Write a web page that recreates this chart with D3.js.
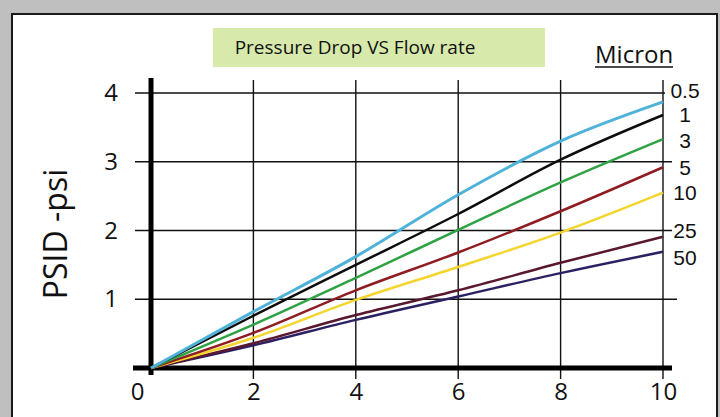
<!DOCTYPE html>
<html>
<head>
<meta charset="utf-8">
<script src="https://cdn.jsdelivr.net/npm/d3@7"></script>
<style>
  body { margin: 0; background: #bfbfbf; }
  svg { display: block; }
  text { font-family: "Open Sans", "Liberation Sans", sans-serif; fill: #111; }
</style>
</head>
<body>
<svg id="svg"></svg>
<script>
  // flow rate (x) and pressure drop readings per micron rating
  const flowRate = [0, 2, 4, 6, 8, 10];
  const microns = ["0.5", "1", "3", "5", "10", "25", "50"];
  const psi_05 = [0, 0.82, 1.62, 2.52, 3.30, 3.87];
  const psi_1  = [0, 0.76, 1.50, 2.24, 3.03, 3.68];
  const psi_3  = [0, 0.63, 1.31, 2.01, 2.70, 3.33];
  const psi_5  = [0, 0.51, 1.13, 1.68, 2.28, 2.92];
  const psi_10 = [0, 0.44, 0.99, 1.47, 1.97, 2.55];
  const psi_25 = [0, 0.36, 0.77, 1.13, 1.53, 1.91];
  const psi_50 = [0, 0.33, 0.70, 1.04, 1.38, 1.69];
  const labelPsi = [4.04, 3.68, 3.31, 2.91, 2.55, 2.0, 1.61];   // where the micron labels sit
  const xTicks = [0, 2, 4, 6, 8, 10];
  const yTicks = [1, 2, 3, 4];

  const seriesValues = [psi_05, psi_1, psi_3, psi_5, psi_10, psi_25, psi_50];
  const colors = ["#4fb3d9", "#0d0d0d", "#2fa245", "#8e1c22", "#f3d52e", "#5a1730", "#2b2162"];

  const W = 720, H = 417;

  const svg = d3.select("#svg")
      .attr("width", W)
      .attr("height", H);

  const x = d3.scaleLinear().domain([0, 10]).range([151, 663]);
  const y = d3.scaleLinear().domain([0, 4]).range([368, 93]);

  // paper frame
  svg.append("rect")
      .attr("x", 12).attr("y", 14)
      .attr("width", 705).attr("height", 430)
      .attr("fill", "#fff")
      .attr("stroke", "#1a1a1a")
      .attr("stroke-width", 2);

  // title box
  svg.append("rect")
      .attr("x", 213).attr("y", 28)
      .attr("width", 332).attr("height", 39)
      .attr("fill", "#d7e9ab");
  svg.append("text")
      .attr("x", 355).attr("y", 54)
      .attr("text-anchor", "middle")
      .style("font-size", "19px")
      .text("Pressure Drop VS Flow rate");

  // legend header
  svg.append("text")
      .attr("x", 595).attr("y", 63)
      .style("font-size", "24px")
      .text("Micron");
  svg.append("line")
      .attr("x1", 595).attr("x2", 673)
      .attr("y1", 67).attr("y2", 67)
      .attr("stroke", "#111").attr("stroke-width", 1.5);

  // grid
  const hEnd = {1: 677, 2: 672, 3: 672, 4: 665};
  svg.append("g").selectAll("line")
      .data(yTicks)
      .enter().append("line")
      .attr("x1", x(0) - 16)
      .attr("x2", function(d) { return hEnd[d]; })
      .attr("y1", function(d) { return y(d); })
      .attr("y2", function(d) { return y(d); })
      .attr("stroke", "#111")
      .attr("stroke-width", 1.4);

  svg.append("g").selectAll("line")
      .data(xTicks.slice(1))
      .enter().append("line")
      .attr("x1", function(d) { return x(d); })
      .attr("x2", function(d) { return x(d); })
      .attr("y1", y(4) - 13)
      .attr("y2", y(0) + 11)
      .attr("stroke", "#111")
      .attr("stroke-width", 1.4);

  // heavy axes
  svg.append("line")
      .attr("x1", x(0) - 18).attr("x2", x(10) + 9)
      .attr("y1", y(0)).attr("y2", y(0))
      .attr("stroke", "#000").attr("stroke-width", 5);
  svg.append("line")
      .attr("x1", x(0)).attr("x2", x(0))
      .attr("y1", y(4) - 15).attr("y2", y(0) + 7)
      .attr("stroke", "#000").attr("stroke-width", 5);

  // tick labels
  const yAxis = svg.append("g")
      .attr("transform", `translate(${x(0)}, 0)`)
      .call(d3.axisLeft(y).tickValues(yTicks).tickFormat(d3.format("d")).tickSize(0).tickPadding(33));
  const xAxis = svg.append("g")
      .attr("transform", `translate(0, ${y(0)})`)
      .call(d3.axisBottom(x).tickValues(xTicks).tickFormat(d3.format("d")).tickSize(0).tickPadding(15));
  [yAxis, xAxis].forEach(function(a) {
    a.select(".domain").remove();
    a.selectAll("text")
      .style("font-size", "24px")
      .style("font-family", "'Open Sans', sans-serif")
      .attr("fill", "#111");
  });
  xAxis.selectAll(".tick text")
      .attr("dx", function(d) { return d === 0 ? -14 : 0; });

  svg.append("text")
      .attr("transform", "translate(67, 234) rotate(-90)")
      .attr("text-anchor", "middle")
      .style("font-size", "32px")
      .text("PSID -psi");

  // curves
  const line = d3.line()
      .x(function(d, i) { return x(flowRate[i]); })
      .y(function(d) { return y(d); })
      .curve(d3.curveMonotoneX);

  svg.append("g").selectAll("path")
      .data(seriesValues.slice().reverse())
      .enter().append("path")
      .attr("fill", "none")
      .attr("stroke", function(d, i) { return colors[colors.length - 1 - i]; })
      .attr("stroke-width", function(d, i) { return i === colors.length - 1 ? 3 : 2.5; })
      .attr("d", line);

  // micron labels
  svg.append("g").selectAll("text")
      .data(microns)
      .enter().append("text")
      .attr("x", 685)
      .attr("y", function(d, i) { return y(labelPsi[i]); })
      .attr("dy", "0.35em")
      .attr("text-anchor", "middle")
      .style("font-family", "'Liberation Sans', sans-serif")
      .style("font-size", "21px")
      .text(function(d) { return d; });
</script>
</body>
</html>
